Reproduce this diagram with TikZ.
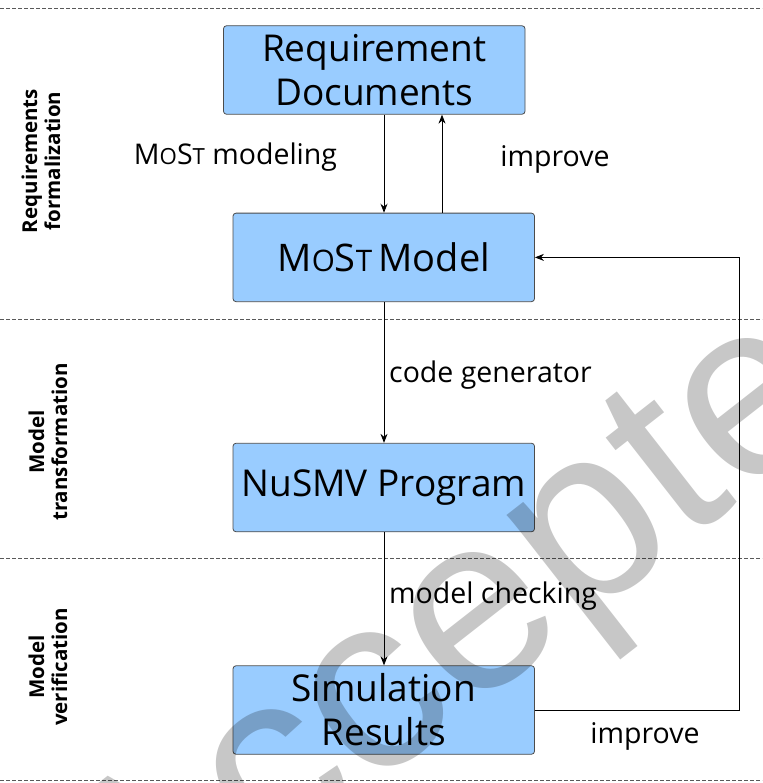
\documentclass[tikz,border=0pt]{standalone}
\usepackage{fontspec}
\setmainfont{Open Sans}
\newfontfamily\wmfont{Liberation Sans}
\usepackage{graphicx}
\usetikzlibrary{arrows.meta}
\definecolor{boxblue}{HTML}{99CCFF}
\newcommand{\MoST}{M\scalebox{0.78}{O}S\scalebox{0.78}{T}}
\begin{document}
\begin{tikzpicture}[x=1pt,y=-1pt]
\tikzset{
  box/.style={draw=black!70, fill=boxblue, rounded corners=3pt, line width=0.8pt,
    minimum width=301.5pt, minimum height=88.5pt, align=center, inner sep=0pt,
    font=\fontsize{37}{44}\selectfont},
  arr/.style={-{Stealth[length=9pt,width=7pt]}, line width=0.8pt},
  lbl/.style={font=\fontsize{28.5}{34}\selectfont, inner sep=0pt, anchor=base},
  side/.style={font=\bfseries\fontsize{20.5}{23}\selectfont, rotate=90, align=center, inner sep=0pt},
  sep/.style={dash pattern=on 4pt off 2pt, draw=black!65, line width=0.7pt}
}
\useasboundingbox (0,0) rectangle (762,783);
\fill[white] (0,0) rectangle (762,783);

% separators
\draw[sep] (0,8) -- (762,8);
\draw[sep] (0,319) -- (762,319);
\draw[sep] (0,558) -- (762,558);
\draw[sep] (0,780) -- (762,780);

% side labels
\node[side] (s1) at (41,161) {Requirements\\formalization};
\node[side] (s2) at (48,442) {Model\\transformation};
\node[side] (s3) at (48,667) {Model\\verification};

% boxes
\node[box] (b1) at (374.25,70) {Requirement\\Documents};
\node[box, font=\fontsize{38}{44}\selectfont] (b2) at (383.75,257.4) {\MoST\,Model};
\node[box] (b3) at (383.75,487.5) {NuSMV Program};
\node[box] (b4) at (383.75,710) {Simulation\\Results};

% helper coordinates
\coordinate (dx) at (384,0);
\coordinate (ux) at (442,0);
\coordinate (rx) at (739.5,0);

% connectors
\draw[arr] (b1.south -| dx) -- (b2.north -| dx);
\draw[arr] (b2.north -| ux) -- (b1.south -| ux);
\draw[arr] (b2.south -| dx) -- (b3.north -| dx);
\draw[arr] (b3.south -| dx) -- (b4.north -| dx);
\draw[arr] (b4.east) -- (b4.east -| rx) -- (b2.east -| rx) -- (b2.east);

% edge labels
\node[lbl] (l1) at (235.5,165) {\MoST\ modeling};
\node[lbl] (l2) at (555,167) {improve};
\node[lbl, anchor=base west] (l3) at (389,382) {code generator};
\node[lbl, anchor=base west] (l4) at (389,603) {model checking};
\node[lbl] (l5) at (645,743) {improve};

% watermark
\begin{scope}
\clip (0,0) rectangle (762,783);
\node[text=black, text opacity=0.22, rotate=38, inner sep=0pt,
  font=\wmfont\fontsize{250}{250}\selectfont] (wm) at (508,600) {Accepted};
\end{scope}
\end{tikzpicture}
\end{document}
